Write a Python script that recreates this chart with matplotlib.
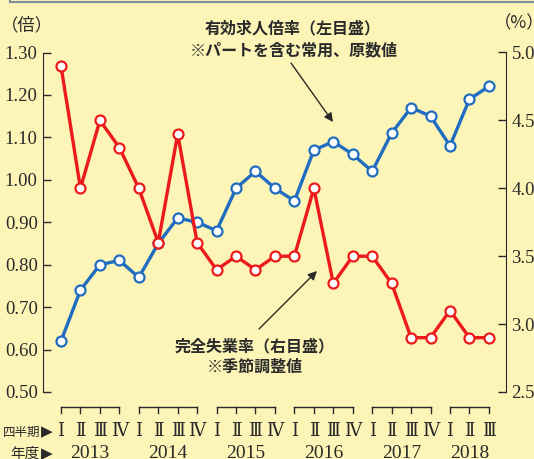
import numpy as np
import matplotlib
matplotlib.use('Agg')
import matplotlib.pyplot as plt
import matplotlib.transforms as mtransforms
from matplotlib.lines import Line2D

# data
years = ['2013', '2014', '2015', '2016', '2017', '2018']
quarters_per_year = [4, 4, 4, 4, 4, 3]
quarter_names = ['Ⅰ', 'Ⅱ', 'Ⅲ', 'Ⅳ']
job_ratio = [0.62, 0.74, 0.80, 0.81, 0.77, 0.85, 0.91, 0.90, 0.88, 0.98, 1.02, 0.98,
             0.95, 1.07, 1.09, 1.06, 1.02, 1.11, 1.17, 1.15, 1.08, 1.19, 1.22]
unemployment = [4.9, 4.0, 4.5, 4.3, 4.0, 3.6, 4.4, 3.6, 3.4, 3.5, 3.4, 3.5,
                3.5, 4.0, 3.3, 3.5, 3.5, 3.3, 2.9, 2.9, 3.1, 2.9, 2.9]
left_ticks = [0.50, 0.60, 0.70, 0.80, 0.90, 1.00, 1.10, 1.20, 1.30]
right_ticks = [2.5, 3.0, 3.5, 4.0, 4.5, 5.0]

W, H = 534, 459
bg = '#FCF5B7'
blue = '#1F6CC0'
red = '#EC1A1A'
ink = '#2A2A2A'
serif = ['Liberation Serif', 'DejaVu Serif']
jp = ['Noto Sans CJK JP', 'DejaVu Sans']


def fx(x):
    return x / W


def fy(y):
    return 1 - y / H


fig = plt.figure(figsize=(W / 100, H / 100), dpi=100)
fig.patch.set_facecolor(bg)

ax = fig.add_axes([fx(43.3), fy(392), (506 - 43.3) / W, (392 - 52.5) / H])
ax.set_facecolor('none')
ax2 = ax.twinx()

x = np.arange(len(job_ratio))
ax.plot(x, job_ratio, color=blue, lw=2.4, marker='o', ms=7.2, mfc='white',
        mec=blue, mew=1.6, solid_joinstyle='round')
ax2.plot(x, unemployment, color=red, lw=2.4, marker='o', ms=7.2, mfc='white',
         mec=red, mew=1.6, solid_joinstyle='round')

ax.set_xlim(-0.91, 22.88)
ax.set_ylim(0.5, 1.3)
ax2.set_ylim(2.5, 5.0)
ax.set_xticks([])

ax.set_yticks(left_ticks)
ax.set_yticklabels([f'{v:.2f}' for v in left_ticks], family=serif, fontsize=13.5, color=ink)
ax2.set_yticks(right_ticks)
ax2.set_yticklabels([f'{v:.1f}' for v in right_ticks], family=serif, fontsize=13.5, color=ink)
ax.tick_params(axis='y', direction='in', length=6, width=1, color=ink, pad=4)
ax2.tick_params(axis='y', direction='in', length=6, width=1, color=ink, pad=4)

for a in (ax, ax2):
    for s in ('top', 'bottom'):
        a.spines[s].set_visible(False)
ax.spines['right'].set_visible(False)
ax2.spines['left'].set_visible(False)
ax.spines['left'].set_color(ink)
ax2.spines['right'].set_color(ink)

# unit labels
fig.text(fx(27), fy(25), '（倍）', family=jp, fontsize=12.5, color=ink, ha='center', va='center')
fig.text(fx(494), fy(23), '（%）', family=jp, fontsize=12.5, color=ink, ha='left', va='center')

# series notes with arrows
note = dict(family=jp, fontsize=11.5, fontweight='bold', color=ink, ha='center', va='center')
fig.text(fx(293), fy(28), '有効求人倍率（左目盛）', **note)
fig.text(fx(294), fy(50), '※パートを含む常用、原数値', **note)
fig.text(fx(254.5), fy(346), '完全失業率（右目盛）', **note)
fig.text(fx(254.5), fy(367), '※季節調整値', **note)

arrow = dict(arrowstyle='-|>', color=ink, lw=1, mutation_scale=13, shrinkA=0, shrinkB=0)
ax.annotate('', xy=(fx(333), fy(122)), xytext=(fx(291), fy(63)),
            xycoords='figure fraction', textcoords='figure fraction', arrowprops=arrow)
ax.annotate('', xy=(fx(317), fy(271)), xytext=(fx(259), fy(329)),
            xycoords='figure fraction', textcoords='figure fraction', arrowprops=arrow)

# quarter brackets and labels below the plot
tr = mtransforms.blended_transform_factory(ax.transData, fig.transFigure)
start = 0
for year, n in zip(years, quarters_per_year):
    qs = np.arange(start, start + n)
    fig.add_artist(Line2D([qs[0], qs[-1]], [fy(406.5), fy(406.5)], transform=tr,
                          color=ink, lw=1))
    for i, q in enumerate(qs):
        fig.add_artist(Line2D([q, q], [fy(406.5), fy(413)], transform=tr, color=ink, lw=1))
        fig.text(q, fy(432), quarter_names[i], transform=tr, family=serif, fontsize=13,
                 color=ink, ha='center', va='center')
    fig.text(qs.mean(), fy(454), year, transform=tr, family=serif, fontsize=14,
             color=ink, ha='center', va='center')
    start += n

fig.text(fx(40), fy(432), '四半期', family=jp, fontsize=9, color=ink, ha='right', va='center')
fig.text(fx(40), fy(454), '年度', family=jp, fontsize=10.5, color=ink, ha='right', va='center')
for yy in (432, 454):
    fig.text(fx(46.5), fy(yy), '▶', family=['DejaVu Sans'], fontsize=11, color=ink,
             ha='center', va='center')

# frame edge of the box above the chart
fig.add_artist(Line2D([fx(10), 1], [fy(1.5), fy(1.5)], color='#7E8FA0', lw=1.5))
fig.add_artist(Line2D([fx(10), fx(10)], [1, fy(1.5)], color='#7E8FA0', lw=1.5))

fig.savefig('out.png', dpi=100, facecolor=bg)
